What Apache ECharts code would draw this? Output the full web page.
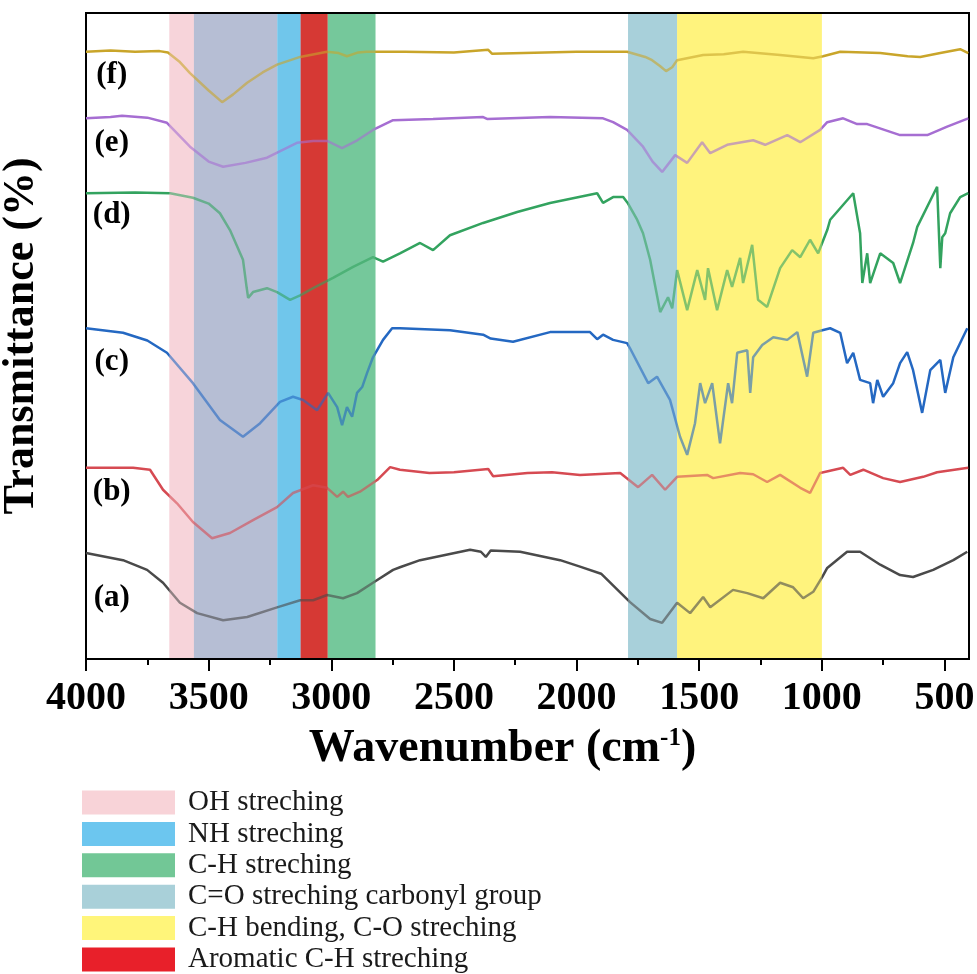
<!DOCTYPE html>
<html>
<head>
<meta charset="utf-8">
<style>
html, body { margin: 0; padding: 0; background: #fff; }
#myChart { width: 977px; height: 974px; }
</style>
<script src="https://cdn.jsdelivr.net/npm/echarts@6.0.0/dist/echarts.min.js"></script>
</head>
<body>
<div id="myChart"></div>
<script>
// spectra: [wavenumber (cm-1), transmittance with offset]
const specA = [[4000,16.4],[3849,15.3],[3751,13.8],[3686,11.8],[3617,8.7],[3547,7.1],[3441,6.0],[3343,6.5],[3221,8.0],[3127,9.1],[3074,9.1],[3017,9.9],[2952,9.4],[2895,10.2],[2830,11.8],[2748,13.8],[2720,14.2],[2638,15.3],[2434,16.9],[2390,16.6],[2370,15.8],[2350,16.8],[2230,16.6],[2067,15.3],[1986,14.3],[1900,13.2],[1782,8.8],[1700,6.2],[1651,5.6],[1590,8.7],[1537,7.1],[1484,9.6],[1455,8.0],[1362,10.7],[1304,10.2],[1239,9.4],[1170,11.8],[1117,11.1],[1076,9.4],[1035,10.4],[998,12.7],[978,14.1],[897,16.6],[844,16.6],[762,14.6],[681,13.0],[628,12.7],[546,13.8],[464,15.3],[407,16.6]];
const specB = [[4000,29.6],[3808,29.6],[3739,29.3],[3686,26.2],[3629,24.1],[3564,21.2],[3486,18.7],[3413,19.5],[3319,21.5],[3221,23.5],[3156,25.7],[3074,26.9],[3017,26.5],[2976,25.1],[2952,25.9],[2932,25.1],[2883,25.9],[2813,27.7],[2760,29.7],[2720,29.3],[2600,28.8],[2500,28.9],[2360,29.4],[2340,28.3],[2200,28.8],[2100,28.9],[1986,28.5],[1822,28.8],[1749,26.6],[1692,28.5],[1639,26.2],[1590,28.2],[1468,28.5],[1443,28.0],[1333,28.8],[1280,28.6],[1223,27.4],[1170,28.5],[1088,26.5],[1048,25.7],[1007,28.8],[913,29.6],[884,28.5],[831,29.3],[750,28.0],[681,27.4],[587,28.2],[530,28.9],[403,29.6]];
const specC = [[4000,51.2],[3849,50.5],[3750,49.3],[3670,47.4],[3564,42.7],[3454,37.0],[3360,34.4],[3290,36.5],[3209,39.8],[3156,40.6],[3115,40.1],[3058,38.5],[3013,41.2],[2976,39.0],[2956,36.2],[2936,39.0],[2915,37.5],[2895,41.2],[2874,42.1],[2854,44.3],[2830,46.7],[2789,49.4],[2752,51.2],[2720,51.2],[2516,50.9],[2381,50.2],[2350,49.6],[2259,49.1],[2108,50.6],[1945,50.6],[1916,49.5],[1892,50.2],[1851,49.4],[1794,48.9],[1782,48.1],[1708,42.7],[1672,43.7],[1619,40.1],[1578,34.4],[1549,31.6],[1517,36.5],[1496,42.7],[1476,39.6],[1447,42.7],[1415,33.4],[1382,42.7],[1366,39.6],[1345,47.4],[1304,47.8],[1292,41.2],[1280,46.7],[1243,48.6],[1198,49.8],[1141,49.4],[1100,50.6],[1060,43.7],[1035,50.5],[998,50.9],[966,51.2],[925,50.5],[897,45.8],[872,47.4],[844,43.2],[803,42.7],[791,39.6],[774,43.2],[750,40.6],[709,42.7],[681,45.8],[652,47.5],[628,44.7],[591,38.1],[558,44.7],[517,46.3],[497,41.2],[464,46.7],[407,51.2]];
const specD = [[4000,72.1],[3800,72.2],[3657,72.1],[3564,71.4],[3500,70.5],[3454,69.0],[3413,66.4],[3360,61.8],[3345,57.5],[3339,55.9],[3319,56.8],[3262,57.4],[3221,56.8],[3168,55.6],[3127,56.3],[3074,57.4],[2993,59.0],[2911,60.7],[2830,62.2],[2789,61.5],[2720,62.8],[2638,64.4],[2585,63.3],[2516,65.6],[2381,67.5],[2242,69.2],[2108,70.6],[1916,72.1],[1892,70.6],[1851,71.5],[1810,71.5],[1790,70.5],[1753,68.0],[1729,65.9],[1700,61.8],[1659,53.7],[1627,56.0],[1610,54.3],[1590,60.2],[1549,54.0],[1508,60.2],[1476,55.6],[1464,60.5],[1427,54.0],[1386,60.2],[1366,57.6],[1333,62.1],[1321,58.2],[1284,64.1],[1260,55.6],[1223,54.5],[1170,60.5],[1121,63.3],[1088,62.2],[1048,64.9],[1015,62.8],[978,66.4],[966,68.0],[872,72.1],[844,65.9],[835,58.2],[815,62.8],[803,58.2],[762,62.8],[709,61.3],[681,58.2],[628,64.4],[611,66.9],[530,73.1],[517,60.5],[509,65.3],[497,65.9],[477,69.0],[436,71.5],[403,72.1]];
const specE = [[4000,83.7],[3900,83.9],[3853,84.1],[3750,83.8],[3670,83.0],[3576,79.3],[3500,77.0],[3441,76.2],[3350,76.8],[3262,77.6],[3140,79.9],[3074,80.2],[3017,80.2],[2956,79.1],[2894,80.3],[2830,81.9],[2748,83.4],[2585,83.6],[2381,83.9],[2365,83.6],[2108,83.9],[1892,83.7],[1851,83.1],[1794,81.9],[1729,79.3],[1690,77.0],[1651,75.4],[1598,78.0],[1549,76.8],[1488,80.0],[1455,78.3],[1386,79.6],[1280,80.3],[1231,79.6],[1141,81.1],[1088,80.0],[1007,81.9],[978,83.1],[913,83.7],[856,82.8],[815,82.8],[681,81.1],[570,81.1],[489,82.4],[403,83.7]];
const specF = [[4000,94.0],[3900,94.2],[3800,94.0],[3700,94.1],[3666,93.9],[3620,92.5],[3576,90.7],[3500,88.0],[3445,86.2],[3400,87.4],[3343,89.2],[3280,90.8],[3221,92.0],[3127,93.2],[3017,94.0],[2970,93.8],[2936,93.3],[2890,93.9],[2856,94.0],[2700,94.0],[2500,93.9],[2360,94.3],[2345,93.7],[2000,94.0],[1794,94.0],[1720,93.2],[1692,92.7],[1660,91.8],[1635,91.0],[1610,91.6],[1590,92.7],[1484,93.5],[1400,93.6],[1321,94.0],[1170,93.5],[1035,93.0],[995,93.3],[925,94.0],[762,93.8],[650,93.3],[599,93.2],[517,93.8],[436,94.4],[403,93.8]];

const spectra = [specA, specB, specC, specD, specE, specF];
const specNames = ['(a)', '(b)', '(c)', '(d)', '(e)', '(f)'];
// where each sample tag sits [wavenumber, transmittance]
const tagPos = [[3895, 9.4], [3895, 25.9], [3895, 46.0], [3895, 68.7], [3895, 79.9], [3895, 90.4]];

// absorption bands, [from, to] in cm-1
const bandNames = ['OH streching', 'NH streching', 'C-H streching', 'C=O streching carbonyl group', 'C-H bending, C-O streching', 'Aromatic C-H streching'];
const bandRanges = [
  [[3660, 3560], [3560, 3220]],
  [[3220, 3125]],
  [[3015, 2820]],
  [[1790, 1590]],
  [[1590, 1000]],
  [[3125, 3015]]
];

const majorTicks = [4000, 3500, 3000, 2500, 2000, 1500, 1000, 500];
const minorTicks = [3750, 3250, 2750, 2250, 1750, 1250, 750];

// styles
const lineColors = ['#4a4a4a', '#d64a52', '#2468c2', '#33a35f', '#a66ed2', '#c9a52a'];
const legendColors = ['#f8d3d8', '#6cc6ef', '#72c796', '#a9d0d9', '#fff57a', '#e8202a'];
const bandFills = [['#f7d4da', '#b6bed4'], ['#70c6ec'], ['#75c99b'], ['#a8d0da'], ['#fff37d'], ['#d63a35']];
const serif = '"Liberation Serif", "Times New Roman", serif';

let myChart = echarts.init(document.getElementById('myChart'));

function bandSeries(i, name, z, opacity) {
  return {
    name: name,
    type: 'custom',
    z: z,
    silent: true,
    itemStyle: { color: legendColors[i] },
    encode: { x: [0, 1], y: 2 },
    data: bandRanges[i].map(function (r) { return [r[0], r[1], 0]; }),
    renderItem: function (params, api) {
      const p1 = api.coord([api.value(0), 100]);
      const p2 = api.coord([api.value(1), 0]);
      return {
        type: 'rect',
        shape: {
          x: Math.min(p1[0], p2[0]),
          y: p1[1] + 1,
          width: Math.abs(p2[0] - p1[0]),
          height: p2[1] - p1[1] - 2
        },
        style: { fill: bandFills[i][params.dataIndex], opacity: opacity }
      };
    }
  };
}

let series = [];
// solid bands under the spectra
bandNames.forEach(function (n, i) { series.push(bandSeries(i, n, 1, 1)); });

spectra.forEach(function (d, i) {
  series.push({
    name: specNames[i],
    type: 'line',
    data: d,
    showSymbol: false,
    symbol: 'none',
    z: 2,
    lineStyle: { color: lineColors[i], width: 2.5 },
    itemStyle: { color: lineColors[i] },
    markPoint: {
      symbol: 'circle',
      symbolSize: 1,
      itemStyle: { color: 'rgba(0,0,0,0)' },
      label: {
        show: true,
        position: 'inside',
        formatter: '{b}',
        color: '#000',
        fontSize: 31,
        fontWeight: 'bold',
        fontFamily: serif
      },
      data: [{ name: specNames[i], coord: tagPos[i] }]
    }
  });
});

// thin tint of the bands over the spectra
bandNames.forEach(function (n, i) { series.push(bandSeries(i, n + ' tint', 5, 0.4)); });

myChart.setOption({
  animation: false,
  grid: {
    left: 86,
    right: 8,
    top: 13,
    bottom: 315,
    outerBoundsMode: 'none',
    show: true,
    borderColor: '#000',
    borderWidth: 2,
    backgroundColor: 'transparent'
  },
  legend: {
    orient: 'vertical',
    left: 82,
    top: 788,
    height: 260,
    padding: 0,
    icon: 'rect',
    itemWidth: 93,
    itemHeight: 24,
    itemGap: 2.4,
    data: bandNames,
    textStyle: { fontSize: 29, fontFamily: serif, color: '#1a1a1a', padding: [0, 0, 0, 8] }
  },
  xAxis: [
    {
      type: 'value',
      min: 400,
      max: 4000,
      inverse: true,
      name: '{a|Wavenumber (cm}{s|-1}{a|)}',
      nameLocation: 'middle',
      nameGap: 67,
      nameTextStyle: {
        padding: [0, 50, 0, 0],
        rich: {
          a: { fontSize: 46, fontWeight: 'bold', fontFamily: serif, color: '#000', verticalAlign: 'bottom' },
          s: { fontSize: 25, fontWeight: 'bold', fontFamily: serif, color: '#000', verticalAlign: 'top', padding: [0, 0, 18, 0] }
        }
      },
      axisLine: { show: true, lineStyle: { color: '#000', width: 2 } },
      axisTick: { show: true, inside: false, length: 12, lineStyle: { color: '#000', width: 2 }, customValues: majorTicks },
      axisLabel: {
        customValues: majorTicks,
        formatter: function (v) { return String(v); },
        margin: 20,
        fontSize: 40,
        fontWeight: 'bold',
        fontFamily: serif,
        color: '#000'
      },
      splitLine: { show: false }
    },
    {
      type: 'value',
      min: 400,
      max: 4000,
      inverse: true,
      position: 'bottom',
      axisLine: { show: false },
      axisTick: { show: true, inside: false, length: 6, lineStyle: { color: '#000', width: 2 }, customValues: minorTicks },
      axisLabel: { show: false, customValues: minorTicks },
      splitLine: { show: false }
    }
  ],
  yAxis: {
    type: 'value',
    min: 0,
    max: 100,
    name: 'Transmittance (%)',
    nameLocation: 'middle',
    nameGap: 42,
    nameTextStyle: { fontSize: 44, fontWeight: 'bold', fontFamily: serif, color: '#000' },
    axisLine: { show: true, lineStyle: { color: '#000', width: 2 } },
    axisTick: { show: false },
    axisLabel: { show: false },
    splitLine: { show: false }
  },
  series: series
});
</script>
</body>
</html>
